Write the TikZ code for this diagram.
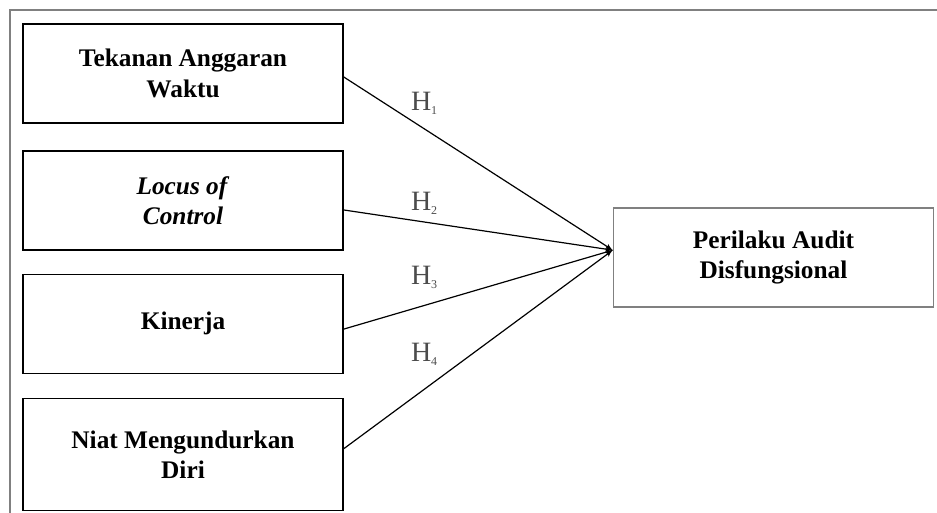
\documentclass[tikz,border=0pt]{standalone}
\usepackage{fontspec}
\setmainfont{Liberation Serif}
\usetikzlibrary{shapes,arrows,positioning}

\begin{document}
\begin{tikzpicture}[x=0.75pt, y=-0.75pt, >=latex',
    block/.style={draw, rectangle, line width=1.1pt, minimum width=240pt, minimum height=74.25pt, align=center, font=\fontsize{19}{23}\selectfont\bfseries},
    hyp/.style={text=black!70, font=\fontsize{21}{21}\selectfont, inner sep=1pt}]
    \useasboundingbox (0,0) rectangle (937,513);
    \draw [gray, line width=1.5pt] (10,513) -- (10,10) -- (937,10);
    \node [block] (tekanan) at (183,73.5) {Tekanan Anggaran\\Waktu};
    \node [block, below=20pt of tekanan] (locus) {\textit{Locus of}\\\textit{Control}};
    \node [block, below=17pt of locus] (kinerja) {Kinerja};
    \node [block, below=18pt of kinerja, minimum height=84pt] (niat) {Niat Mengundurkan\\Diri};
    \node [block, draw=gray] (perilaku) at (773.5,257.5) {Perilaku Audit\\Disfungsional};
    \coordinate (tip) at ([yshift=5.5pt]perilaku.west);
    \draw [->, line width=0.9pt] ([yshift=-2.6pt]tekanan.east) -- node[hyp, pos=0.3, above=9.5pt] {H\textsubscript{\fontsize{9}{9}\selectfont 1}} (tip);
    \draw [->, line width=0.9pt] ([yshift=-7pt]locus.east) -- node[hyp, pos=0.3, above=4pt] {H\textsubscript{\fontsize{9}{9}\selectfont 2}} (tip);
    \draw [->, line width=0.9pt] ([yshift=-4pt]kinerja.east) -- node[hyp, pos=0.3, above=11pt] {H\textsubscript{\fontsize{9}{9}\selectfont 3}} (tip);
    \draw [->, line width=0.9pt] ([yshift=4.5pt]niat.east) -- node[hyp, pos=0.3, above=16.5pt] {H\textsubscript{\fontsize{9}{9}\selectfont 4}} (tip);
\end{tikzpicture}
\end{document}
